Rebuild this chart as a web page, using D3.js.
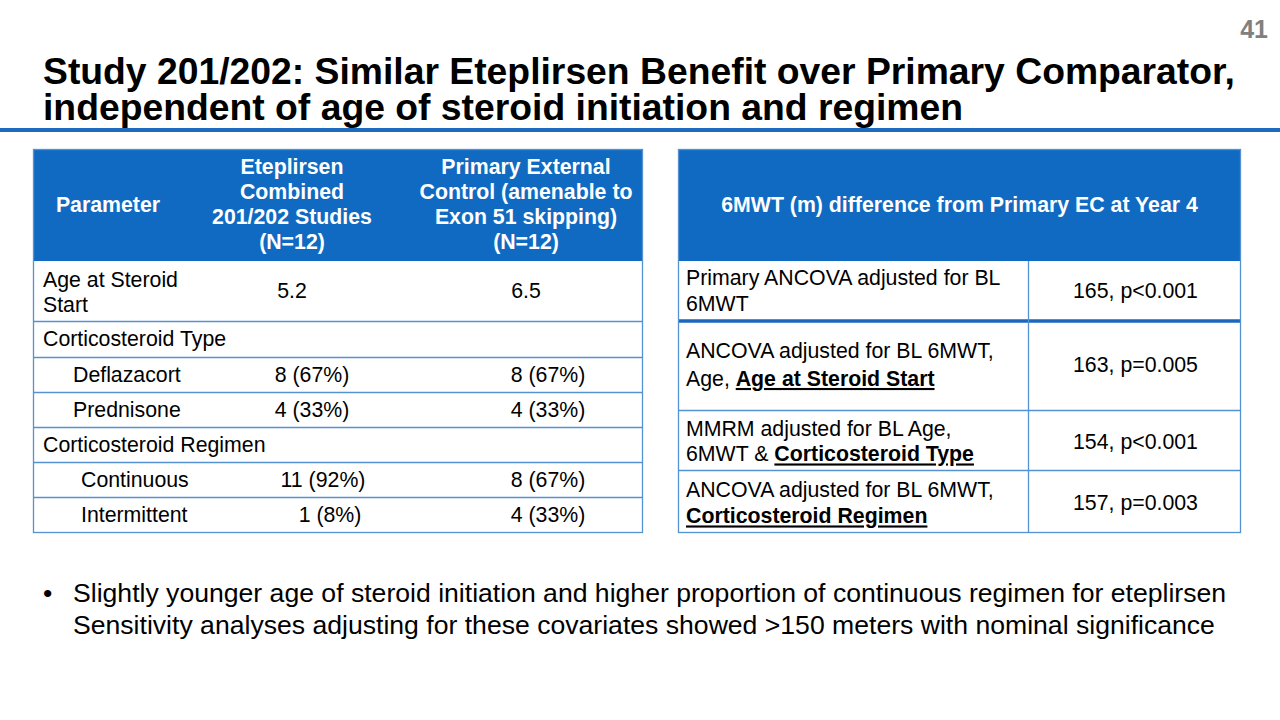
<!DOCTYPE html>
<html>
<head>
<meta charset="utf-8">
<script src="https://cdn.jsdelivr.net/npm/d3@7"></script>
<style>
  html, body { margin: 0; padding: 0; background: #ffffff; }
  svg { display: block; font-family: "Liberation Sans", Arial, sans-serif; }
</style>
</head>
<body>
<svg id="chart" width="1280" height="720"></svg>
<script>
// ---------------- DATA ----------------
const slideNumber = "41";
const titleLines = [
  "Study 201/202: Similar Eteplirsen Benefit over Primary Comparator,",
  "independent of age of steroid initiation and regimen"
];
const leftHeaders = [
  ["Parameter"],
  ["Eteplirsen", "Combined", "201/202 Studies", "(N=12)"],
  ["Primary External", "Control (amenable to", "Exon 51 skipping)", "(N=12)"]
];
const parameters = [
  ["Age at Steroid", "Start"],
  ["Corticosteroid Type"],
  ["Deflazacort"],
  ["Prednisone"],
  ["Corticosteroid Regimen"],
  ["Continuous"],
  ["Intermittent"]
];
const eteplirsenValues = ["5.2", "", "8 (67%)", "4 (33%)", "", "11 (92%)", "1 (8%)"];
const controlValues    = ["6.5", "", "8 (67%)", "4 (33%)", "", "8 (67%)", "4 (33%)"];

const rightHeader = "6MWT (m) difference from Primary EC at Year 4";
// **text** = bold + underlined
const analyses = [
  ["Primary ANCOVA adjusted for BL", "6MWT"],
  ["ANCOVA adjusted for BL 6MWT,", "Age, **Age at Steroid Start**"],
  ["MMRM adjusted for BL Age,", "6MWT & **Corticosteroid Type**"],
  ["ANCOVA adjusted for BL 6MWT,", "**Corticosteroid Regimen**"]
];
const differences = ["165, p<0.001", "163, p=0.005", "154, p<0.001", "157, p=0.003"];

const bulletLines = [
  "Slightly younger age of steroid initiation and higher proportion of continuous regimen for eteplirsen",
  "Sensitivity analyses adjusting for these covariates showed >150 meters with nominal significance"
];

// ---------------- LAYOUT ----------------
const W = 1280, H = 720;
const BLUE = "#116ac1";
const RULE = "#1c6bbe";
const GRID = "#5592d2";
const FS = 21.3;
const svg = d3.select("#chart");

// page number
svg.append("text").attr("x", 1268).attr("y", 38).attr("text-anchor", "end")
  .attr("font-size", 25).attr("font-weight", "bold").attr("fill", "#808080").text(slideNumber);

// title (one text element, two lines)
svg.append("text").attr("font-size", 37.3).attr("font-weight", "bold").attr("fill", "#000")
  .selectAll("tspan").data(titleLines).join("tspan")
  .attr("x", 43).attr("y", (d, i) => 84 + i * 36)
  .text(d => d);

// rule
svg.append("rect").attr("x", 0).attr("y", 128).attr("width", W).attr("height", 4).attr("fill", RULE);

function multiline(g, lines, cx, cy, lh, fs, anchor, weight, fill) {
  const t = g.append("text").attr("font-size", fs).attr("text-anchor", anchor)
    .attr("font-weight", weight).attr("fill", fill);
  lines.forEach((ln, i) => {
    const y = cy + (i - (lines.length - 1) / 2) * lh + fs * 0.35;
    const parts = ln.split(/(\*\*[^*]+\*\*)/).filter(p => p.length);
    let first = true;
    parts.forEach(p => {
      const bold = p.startsWith("**");
      const ts = t.append("tspan").text(bold ? p.slice(2, -2) : p);
      if (first) { ts.attr("x", cx).attr("y", y); first = false; }
      if (bold) ts.attr("font-weight", "bold").style("text-decoration", "underline");
    });
  });
  return t;
}

// ---------- Left table ----------
const L = { x0: 33, x1: 643, colEdges: [33, 183, 401, 643] };
const colCenters = [108, 292, 526];
const leftRowEdges = [149, 261, 321, 357, 392, 427, 462, 497, 533];
const rowIndent = [10, 10, 40, 40, 10, 48, 48];
const valueShift2 = [0, 0, 20, 20, 0, 31, 38];
const valueShift3 = [0, 0, 22, 22, 0, 22, 22];

const lg = svg.append("g");
lg.append("rect").attr("x", L.x0).attr("y", leftRowEdges[0])
  .attr("width", L.x1 - L.x0).attr("height", leftRowEdges[1] - leftRowEdges[0]).attr("fill", BLUE);
leftHeaders.forEach((lines, i) => {
  multiline(lg, lines, colCenters[i], (leftRowEdges[0] + leftRowEdges[1]) / 2 - 0.5, 25, FS, "middle", "bold", "#fff");
});
parameters.forEach((lines, r) => {
  const y0 = leftRowEdges[r + 1], y1 = leftRowEdges[r + 2], cy = (y0 + y1) / 2;
  multiline(lg, lines, L.x0 + rowIndent[r], cy + (lines.length > 1 ? 1 : 0), 25, FS, "start", "normal", "#000");
  if (eteplirsenValues[r]) multiline(lg, [eteplirsenValues[r]], colCenters[1] + valueShift2[r], cy, 25, FS, "middle", "normal", "#000");
  if (controlValues[r]) multiline(lg, [controlValues[r]], colCenters[2] + valueShift3[r], cy, 25, FS, "middle", "normal", "#000");
});
lg.selectAll("line.h").data(leftRowEdges.slice(2, -1)).join("line")
  .attr("x1", L.x0).attr("x2", L.x1).attr("y1", d => d + 0.5).attr("y2", d => d + 0.5)
  .attr("stroke", GRID).attr("stroke-width", 1.3);
lg.append("rect").attr("x", L.x0 + 0.5).attr("y", leftRowEdges[0] + 0.5)
  .attr("width", L.x1 - L.x0 - 1).attr("height", leftRowEdges[leftRowEdges.length - 1] - leftRowEdges[0] - 1)
  .attr("fill", "none").attr("stroke", GRID).attr("stroke-width", 1.3);

// ---------- Right table ----------
const R = { x0: 678, x1: 1241, split: 1028 };
const rightRowEdges = [149, 261, 321, 410, 470, 533];
const rightLineHeights = [26, 28, 25, 26];
const rightCenterShift = [0, -1, 1.5, 1.5];
const rg = svg.append("g");
rg.append("rect").attr("x", R.x0).attr("y", rightRowEdges[0])
  .attr("width", R.x1 - R.x0).attr("height", rightRowEdges[1] - rightRowEdges[0]).attr("fill", BLUE);
multiline(rg, [rightHeader], (R.x0 + R.x1) / 2, (rightRowEdges[0] + rightRowEdges[1]) / 2, 25, FS, "middle", "bold", "#fff");
analyses.forEach((lines, r) => {
  const cy = (rightRowEdges[r + 1] + rightRowEdges[r + 2]) / 2 + rightCenterShift[r];
  multiline(rg, lines, R.x0 + 8, cy, rightLineHeights[r], FS, "start", "normal", "#000");
  multiline(rg, [differences[r]], (R.split + R.x1) / 2 + 1, cy, 26, FS, "middle", "normal", "#000");
});
rg.selectAll("line.h").data(rightRowEdges.slice(3, -1)).join("line")
  .attr("x1", R.x0).attr("x2", R.x1).attr("y1", d => d + 0.5).attr("y2", d => d + 0.5)
  .attr("stroke", GRID).attr("stroke-width", 1.3);
rg.append("line").attr("x1", R.x0).attr("x2", R.x1)
  .attr("y1", rightRowEdges[2]).attr("y2", rightRowEdges[2])
  .attr("stroke", "#1a67bd").attr("stroke-width", 3.5);
rg.append("line").attr("x1", R.split + 0.5).attr("x2", R.split + 0.5)
  .attr("y1", rightRowEdges[1]).attr("y2", rightRowEdges[rightRowEdges.length - 1])
  .attr("stroke", GRID).attr("stroke-width", 1.3);
rg.append("rect").attr("x", R.x0 + 0.5).attr("y", rightRowEdges[0] + 0.5)
  .attr("width", R.x1 - R.x0 - 1).attr("height", rightRowEdges[rightRowEdges.length - 1] - rightRowEdges[0] - 1)
  .attr("fill", "none").attr("stroke", GRID).attr("stroke-width", 1.3);

// ---------- Bullets ----------
const bg = svg.append("g");
bg.append("text").attr("x", 43).attr("y", 602).attr("font-size", 26.6).text("•");
bg.selectAll("text.b").data(bulletLines).join("text")
  .attr("x", 73).attr("y", (d, i) => 602 + i * 32)
  .attr("font-size", 26.6).attr("fill", "#000").text(d => d);
</script>
</body>
</html>
